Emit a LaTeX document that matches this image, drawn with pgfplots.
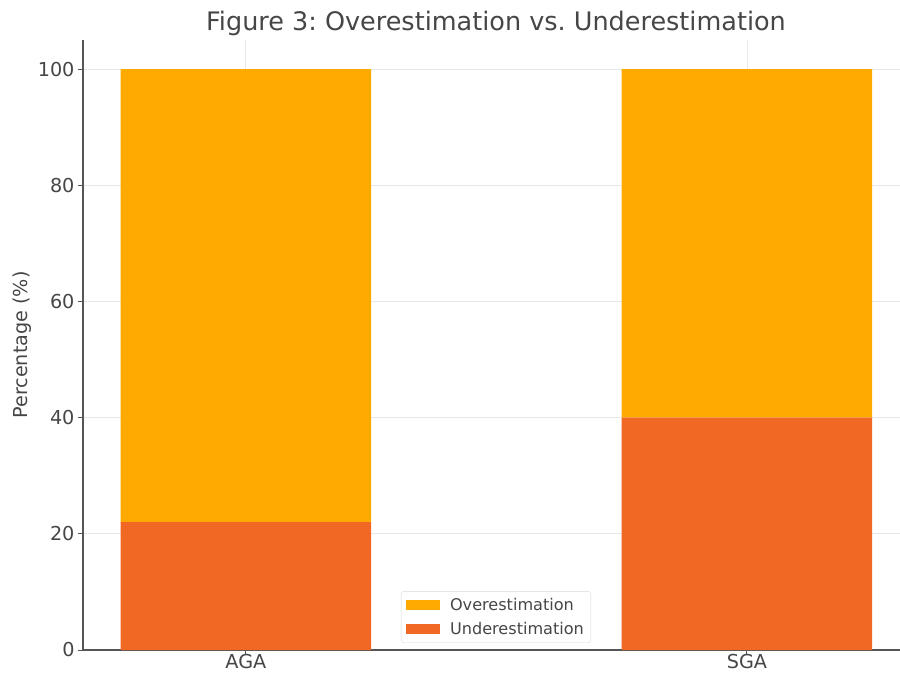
\documentclass[border=0pt]{standalone}
\usepackage{fontspec}
\setmainfont{DejaVu Sans}
\usepackage{pgfplots}
\pgfplotsset{compat=1.18}
\frenchspacing
\definecolor{overc}{RGB}{254,170,0}
\definecolor{underc}{RGB}{241,103,36}
\definecolor{txt}{RGB}{70,70,70}
\definecolor{spine}{RGB}{85,85,85}
\definecolor{gridc}{RGB}{232,232,232}
\definecolor{legc}{RGB}{215,215,215}
\begin{document}
\begin{tikzpicture}
\useasboundingbox (-83pt,-25pt) rectangle (817pt,650pt);
\begin{axis}[
  at={(0pt,0pt)}, anchor=south west, scale only axis,
  width=817pt, height=610pt,
  xmin=-0.325, xmax=1.3054, ymin=0, ymax=105,
  ybar stacked, bar width=0.5,
  axis x line*=bottom, axis y line*=left,
  axis line style={spine, line width=1.2pt, -},
  xtick={0,1}, xticklabels={AGA,SGA},
  ytick={0,20,40,60,80,100},
  tick align=outside, major tick length=5pt,
  tick style={spine, line width=1pt},
  grid=major, major grid style={gridc, line width=0.8pt},
  ticklabel style={font=\fontsize{19.2}{22}\selectfont, text=txt},
  xticklabel style={yshift=4pt},
  /pgf/number format/assume math mode=true,
  ylabel={Percentage (\%)},
  ylabel style={font=\fontsize{19.2}{22}\selectfont, text=txt, at={(axis description cs:-0.0747,0.5)}, anchor=center},
  reverse legend,
  legend cell align=left,
  legend image code/.code={\fill[#1, sharp corners] (0pt,-5pt) rectangle (34pt,5pt);},
  legend style={at={(axis description cs:0.5055,0.0115)}, anchor=south,
    draw=legc, rounded corners=3pt, fill=white,
    font=\fontsize{16.1}{19}\selectfont, text=txt,
    row sep=6pt, inner sep=5pt,
    /tikz/every odd column/.append style={column sep=8pt}},
]
\addplot[fill=underc, draw=none] coordinates {(0,22) (1,40)};
\addlegendentry{Underestimation}
\addplot[fill=overc, draw=none] coordinates {(0,78) (1,60)};
\addlegendentry{Overestimation}
\end{axis}
\node[font=\fontsize{25.5}{29}\selectfont, text=txt] at (413pt,627pt) {Figure 3: Overestimation vs. Underestimation};
\end{tikzpicture}
\end{document}
